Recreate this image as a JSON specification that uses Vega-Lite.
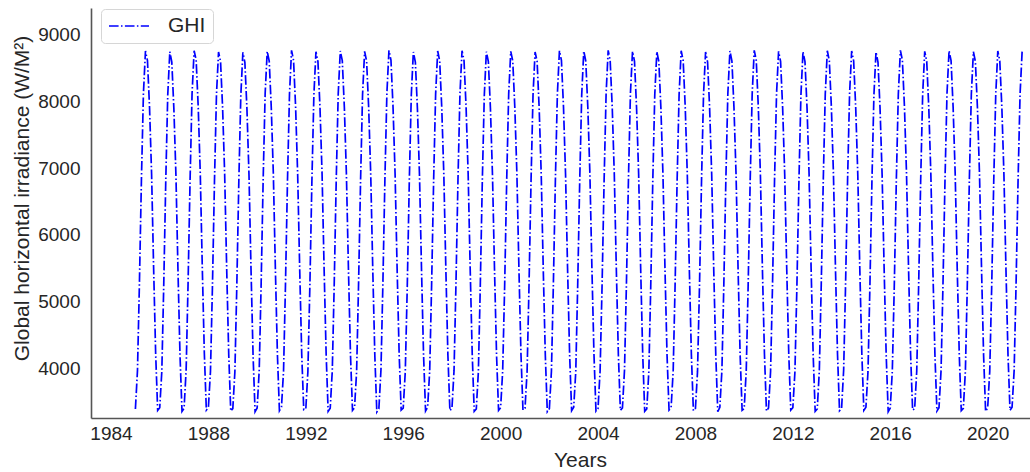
{
  "$schema": "https://vega.github.io/schema/vega-lite/v6.json",
  "width": 939,
  "height": 410,
  "autosize": {"type": "none"},
  "padding": {"left": 91, "top": 8, "right": 0, "bottom": 54},
  "background": "white",
  "config": {
    "view": {"stroke": null},
    "font": "Liberation Sans",
    "axis": {
      "grid": false,
      "ticks": false,
      "tickSize": 0,
      "domainColor": "#555555",
      "domainWidth": 1.6,
      "labelFont": "Liberation Sans",
      "labelFontSize": 19,
      "labelColor": "#262626",
      "titleFont": "Liberation Sans",
      "titleFontSize": 21,
      "titleFontWeight": "normal",
      "titleColor": "#262626"
    },
    "legend": {
      "labelFont": "Liberation Sans",
      "labelFontSize": 21,
      "labelColor": "#262626"
    }
  },
  "data": {
    "values": [
      {"d":"1985-01","v":3385},{"d":"1985-02","v":3960},{"d":"1985-03","v":5210},{"d":"1985-04","v":6810},{"d":"1985-05","v":8110},{"d":"1985-06","v":8755},{"d":"1985-07","v":8610},{"d":"1985-08","v":7910},{"d":"1985-09","v":6905},{"d":"1985-10","v":5510},{"d":"1985-11","v":4210},{"d":"1985-12","v":3365},
      {"d":"1986-01","v":3405},{"d":"1986-02","v":3945},{"d":"1986-03","v":5190},{"d":"1986-04","v":6790},{"d":"1986-05","v":8090},{"d":"1986-06","v":8745},{"d":"1986-07","v":8590},{"d":"1986-08","v":7890},{"d":"1986-09","v":6890},{"d":"1986-10","v":5490},{"d":"1986-11","v":4190},{"d":"1986-12","v":3350},
      {"d":"1987-01","v":3395},{"d":"1987-02","v":3970},{"d":"1987-03","v":5220},{"d":"1987-04","v":6820},{"d":"1987-05","v":8120},{"d":"1987-06","v":8760},{"d":"1987-07","v":8620},{"d":"1987-08","v":7920},{"d":"1987-09","v":6915},{"d":"1987-10","v":5520},{"d":"1987-11","v":4220},{"d":"1987-12","v":3370},
      {"d":"1988-01","v":3410},{"d":"1988-02","v":3950},{"d":"1988-03","v":5200},{"d":"1988-04","v":6800},{"d":"1988-05","v":8100},{"d":"1988-06","v":8740},{"d":"1988-07","v":8600},{"d":"1988-08","v":7900},{"d":"1988-09","v":6900},{"d":"1988-10","v":5500},{"d":"1988-11","v":4200},{"d":"1988-12","v":3355},
      {"d":"1989-01","v":3390},{"d":"1989-02","v":3940},{"d":"1989-03","v":5185},{"d":"1989-04","v":6785},{"d":"1989-05","v":8085},{"d":"1989-06","v":8735},{"d":"1989-07","v":8585},{"d":"1989-08","v":7885},{"d":"1989-09","v":6885},{"d":"1989-10","v":5485},{"d":"1989-11","v":4185},{"d":"1989-12","v":3345},
      {"d":"1990-01","v":3400},{"d":"1990-02","v":3965},{"d":"1990-03","v":5215},{"d":"1990-04","v":6815},{"d":"1990-05","v":8115},{"d":"1990-06","v":8750},{"d":"1990-07","v":8605},{"d":"1990-08","v":7905},{"d":"1990-09","v":6910},{"d":"1990-10","v":5505},{"d":"1990-11","v":4205},{"d":"1990-12","v":3360},
      {"d":"1991-01","v":3415},{"d":"1991-02","v":3955},{"d":"1991-03","v":5205},{"d":"1991-04","v":6805},{"d":"1991-05","v":8105},{"d":"1991-06","v":8765},{"d":"1991-07","v":8615},{"d":"1991-08","v":7915},{"d":"1991-09","v":6895},{"d":"1991-10","v":5495},{"d":"1991-11","v":4195},{"d":"1991-12","v":3375},
      {"d":"1992-01","v":3385},{"d":"1992-02","v":3945},{"d":"1992-03","v":5195},{"d":"1992-04","v":6795},{"d":"1992-05","v":8095},{"d":"1992-06","v":8745},{"d":"1992-07","v":8595},{"d":"1992-08","v":7895},{"d":"1992-09","v":6905},{"d":"1992-10","v":5505},{"d":"1992-11","v":4205},{"d":"1992-12","v":3350},
      {"d":"1993-01","v":3395},{"d":"1993-02","v":3960},{"d":"1993-03","v":5210},{"d":"1993-04","v":6810},{"d":"1993-05","v":8110},{"d":"1993-06","v":8755},{"d":"1993-07","v":8610},{"d":"1993-08","v":7910},{"d":"1993-09","v":6900},{"d":"1993-10","v":5500},{"d":"1993-11","v":4200},{"d":"1993-12","v":3365},
      {"d":"1994-01","v":3405},{"d":"1994-02","v":3950},{"d":"1994-03","v":5200},{"d":"1994-04","v":6800},{"d":"1994-05","v":8100},{"d":"1994-06","v":8750},{"d":"1994-07","v":8600},{"d":"1994-08","v":7900},{"d":"1994-09","v":6890},{"d":"1994-10","v":5490},{"d":"1994-11","v":4190},{"d":"1994-12","v":3340},
      {"d":"1995-01","v":3390},{"d":"1995-02","v":3970},{"d":"1995-03","v":5220},{"d":"1995-04","v":6820},{"d":"1995-05","v":8120},{"d":"1995-06","v":8765},{"d":"1995-07","v":8620},{"d":"1995-08","v":7920},{"d":"1995-09","v":6910},{"d":"1995-10","v":5510},{"d":"1995-11","v":4210},{"d":"1995-12","v":3370},
      {"d":"1996-01","v":3400},{"d":"1996-02","v":3945},{"d":"1996-03","v":5190},{"d":"1996-04","v":6790},{"d":"1996-05","v":8090},{"d":"1996-06","v":8740},{"d":"1996-07","v":8590},{"d":"1996-08","v":7890},{"d":"1996-09","v":6895},{"d":"1996-10","v":5495},{"d":"1996-11","v":4195},{"d":"1996-12","v":3355},
      {"d":"1997-01","v":3410},{"d":"1997-02","v":3955},{"d":"1997-03","v":5205},{"d":"1997-04","v":6805},{"d":"1997-05","v":8105},{"d":"1997-06","v":8755},{"d":"1997-07","v":8605},{"d":"1997-08","v":7905},{"d":"1997-09","v":6900},{"d":"1997-10","v":5500},{"d":"1997-11","v":4200},{"d":"1997-12","v":3360},
      {"d":"1998-01","v":3395},{"d":"1998-02","v":3960},{"d":"1998-03","v":5210},{"d":"1998-04","v":6810},{"d":"1998-05","v":8110},{"d":"1998-06","v":8760},{"d":"1998-07","v":8610},{"d":"1998-08","v":7910},{"d":"1998-09","v":6905},{"d":"1998-10","v":5505},{"d":"1998-11","v":4205},{"d":"1998-12","v":3350},
      {"d":"1999-01","v":3385},{"d":"1999-02","v":3940},{"d":"1999-03","v":5190},{"d":"1999-04","v":6790},{"d":"1999-05","v":8090},{"d":"1999-06","v":8745},{"d":"1999-07","v":8595},{"d":"1999-08","v":7895},{"d":"1999-09","v":6890},{"d":"1999-10","v":5490},{"d":"1999-11","v":4190},{"d":"1999-12","v":3365},
      {"d":"2000-01","v":3405},{"d":"2000-02","v":3965},{"d":"2000-03","v":5215},{"d":"2000-04","v":6815},{"d":"2000-05","v":8115},{"d":"2000-06","v":8750},{"d":"2000-07","v":8605},{"d":"2000-08","v":7905},{"d":"2000-09","v":6910},{"d":"2000-10","v":5510},{"d":"2000-11","v":4210},{"d":"2000-12","v":3370},
      {"d":"2001-01","v":3400},{"d":"2001-02","v":3950},{"d":"2001-03","v":5200},{"d":"2001-04","v":6800},{"d":"2001-05","v":8100},{"d":"2001-06","v":8740},{"d":"2001-07","v":8600},{"d":"2001-08","v":7900},{"d":"2001-09","v":6900},{"d":"2001-10","v":5500},{"d":"2001-11","v":4200},{"d":"2001-12","v":3345},
      {"d":"2002-01","v":3390},{"d":"2002-02","v":3955},{"d":"2002-03","v":5205},{"d":"2002-04","v":6805},{"d":"2002-05","v":8105},{"d":"2002-06","v":8760},{"d":"2002-07","v":8615},{"d":"2002-08","v":7915},{"d":"2002-09","v":6895},{"d":"2002-10","v":5495},{"d":"2002-11","v":4195},{"d":"2002-12","v":3360},
      {"d":"2003-01","v":3410},{"d":"2003-02","v":3945},{"d":"2003-03","v":5195},{"d":"2003-04","v":6795},{"d":"2003-05","v":8095},{"d":"2003-06","v":8755},{"d":"2003-07","v":8605},{"d":"2003-08","v":7905},{"d":"2003-09","v":6905},{"d":"2003-10","v":5505},{"d":"2003-11","v":4205},{"d":"2003-12","v":3355},
      {"d":"2004-01","v":3395},{"d":"2004-02","v":3960},{"d":"2004-03","v":5210},{"d":"2004-04","v":6810},{"d":"2004-05","v":8110},{"d":"2004-06","v":8765},{"d":"2004-07","v":8610},{"d":"2004-08","v":7910},{"d":"2004-09","v":6900},{"d":"2004-10","v":5500},{"d":"2004-11","v":4200},{"d":"2004-12","v":3365},
      {"d":"2005-01","v":3400},{"d":"2005-02","v":3970},{"d":"2005-03","v":5220},{"d":"2005-04","v":6820},{"d":"2005-05","v":8120},{"d":"2005-06","v":8750},{"d":"2005-07","v":8600},{"d":"2005-08","v":7900},{"d":"2005-09","v":6910},{"d":"2005-10","v":5510},{"d":"2005-11","v":4210},{"d":"2005-12","v":3350},
      {"d":"2006-01","v":3385},{"d":"2006-02","v":3950},{"d":"2006-03","v":5200},{"d":"2006-04","v":6800},{"d":"2006-05","v":8100},{"d":"2006-06","v":8745},{"d":"2006-07","v":8595},{"d":"2006-08","v":7895},{"d":"2006-09","v":6890},{"d":"2006-10","v":5490},{"d":"2006-11","v":4190},{"d":"2006-12","v":3370},
      {"d":"2007-01","v":3405},{"d":"2007-02","v":3955},{"d":"2007-03","v":5205},{"d":"2007-04","v":6805},{"d":"2007-05","v":8105},{"d":"2007-06","v":8760},{"d":"2007-07","v":8610},{"d":"2007-08","v":7910},{"d":"2007-09","v":6900},{"d":"2007-10","v":5500},{"d":"2007-11","v":4200},{"d":"2007-12","v":3360},
      {"d":"2008-01","v":3395},{"d":"2008-02","v":3945},{"d":"2008-03","v":5195},{"d":"2008-04","v":6795},{"d":"2008-05","v":8095},{"d":"2008-06","v":8740},{"d":"2008-07","v":8590},{"d":"2008-08","v":7890},{"d":"2008-09","v":6895},{"d":"2008-10","v":5495},{"d":"2008-11","v":4195},{"d":"2008-12","v":3345},
      {"d":"2009-01","v":3410},{"d":"2009-02","v":3965},{"d":"2009-03","v":5215},{"d":"2009-04","v":6815},{"d":"2009-05","v":8115},{"d":"2009-06","v":8755},{"d":"2009-07","v":8605},{"d":"2009-08","v":7905},{"d":"2009-09","v":6905},{"d":"2009-10","v":5505},{"d":"2009-11","v":4205},{"d":"2009-12","v":3365},
      {"d":"2010-01","v":3390},{"d":"2010-02","v":3960},{"d":"2010-03","v":5210},{"d":"2010-04","v":6810},{"d":"2010-05","v":8110},{"d":"2010-06","v":8765},{"d":"2010-07","v":8615},{"d":"2010-08","v":7915},{"d":"2010-09","v":6910},{"d":"2010-10","v":5510},{"d":"2010-11","v":4210},{"d":"2010-12","v":3355},
      {"d":"2011-01","v":3400},{"d":"2011-02","v":3950},{"d":"2011-03","v":5200},{"d":"2011-04","v":6800},{"d":"2011-05","v":8100},{"d":"2011-06","v":8750},{"d":"2011-07","v":8600},{"d":"2011-08","v":7900},{"d":"2011-09","v":6900},{"d":"2011-10","v":5500},{"d":"2011-11","v":4200},{"d":"2011-12","v":3370},
      {"d":"2012-01","v":3405},{"d":"2012-02","v":3940},{"d":"2012-03","v":5190},{"d":"2012-04","v":6790},{"d":"2012-05","v":8090},{"d":"2012-06","v":8745},{"d":"2012-07","v":8595},{"d":"2012-08","v":7895},{"d":"2012-09","v":6890},{"d":"2012-10","v":5490},{"d":"2012-11","v":4190},{"d":"2012-12","v":3350},
      {"d":"2013-01","v":3385},{"d":"2013-02","v":3955},{"d":"2013-03","v":5205},{"d":"2013-04","v":6805},{"d":"2013-05","v":8105},{"d":"2013-06","v":8760},{"d":"2013-07","v":8610},{"d":"2013-08","v":7910},{"d":"2013-09","v":6905},{"d":"2013-10","v":5505},{"d":"2013-11","v":4205},{"d":"2013-12","v":3360},
      {"d":"2014-01","v":3395},{"d":"2014-02","v":3970},{"d":"2014-03","v":5220},{"d":"2014-04","v":6820},{"d":"2014-05","v":8120},{"d":"2014-06","v":8755},{"d":"2014-07","v":8605},{"d":"2014-08","v":7905},{"d":"2014-09","v":6900},{"d":"2014-10","v":5500},{"d":"2014-11","v":4200},{"d":"2014-12","v":3365},
      {"d":"2015-01","v":3410},{"d":"2015-02","v":3945},{"d":"2015-03","v":5195},{"d":"2015-04","v":6795},{"d":"2015-05","v":8095},{"d":"2015-06","v":8740},{"d":"2015-07","v":8590},{"d":"2015-08","v":7890},{"d":"2015-09","v":6895},{"d":"2015-10","v":5495},{"d":"2015-11","v":4195},{"d":"2015-12","v":3345},
      {"d":"2016-01","v":3400},{"d":"2016-02","v":3960},{"d":"2016-03","v":5210},{"d":"2016-04","v":6810},{"d":"2016-05","v":8110},{"d":"2016-06","v":8765},{"d":"2016-07","v":8615},{"d":"2016-08","v":7915},{"d":"2016-09","v":6910},{"d":"2016-10","v":5510},{"d":"2016-11","v":4210},{"d":"2016-12","v":3370},
      {"d":"2017-01","v":3390},{"d":"2017-02","v":3950},{"d":"2017-03","v":5200},{"d":"2017-04","v":6800},{"d":"2017-05","v":8100},{"d":"2017-06","v":8750},{"d":"2017-07","v":8600},{"d":"2017-08","v":7900},{"d":"2017-09","v":6900},{"d":"2017-10","v":5500},{"d":"2017-11","v":4200},{"d":"2017-12","v":3355},
      {"d":"2018-01","v":3405},{"d":"2018-02","v":3965},{"d":"2018-03","v":5215},{"d":"2018-04","v":6815},{"d":"2018-05","v":8115},{"d":"2018-06","v":8760},{"d":"2018-07","v":8610},{"d":"2018-08","v":7910},{"d":"2018-09","v":6905},{"d":"2018-10","v":5505},{"d":"2018-11","v":4205},{"d":"2018-12","v":3360},
      {"d":"2019-01","v":3395},{"d":"2019-02","v":3955},{"d":"2019-03","v":5205},{"d":"2019-04","v":6805},{"d":"2019-05","v":8105},{"d":"2019-06","v":8745},{"d":"2019-07","v":8595},{"d":"2019-08","v":7895},{"d":"2019-09","v":6890},{"d":"2019-10","v":5490},{"d":"2019-11","v":4190},{"d":"2019-12","v":3350},
      {"d":"2020-01","v":3400},{"d":"2020-02","v":3945},{"d":"2020-03","v":5195},{"d":"2020-04","v":6795},{"d":"2020-05","v":8095},{"d":"2020-06","v":8755},{"d":"2020-07","v":8605},{"d":"2020-08","v":7905},{"d":"2020-09","v":6900},{"d":"2020-10","v":5500},{"d":"2020-11","v":4200},{"d":"2020-12","v":3365},
      {"d":"2021-01","v":3410},{"d":"2021-02","v":3960},{"d":"2021-03","v":5210},{"d":"2021-04","v":6810},{"d":"2021-05","v":8110},{"d":"2021-06","v":8750}
    ]
  },
  "mark": {"type": "line", "strokeWidth": 1.7, "strokeDash": [9.6, 2.4, 1.5, 2.4], "clip": true},
  "encoding": {
    "x": {
      "field": "d",
      "type": "temporal",
      "scale": {"domain": [{"year": 1983, "month": 3, "date": 7}, {"year": 2021, "month": 9, "date": 27}]},
      "axis": {
        "title": "Years",
        "format": "%Y",
        "values": [{"year": 1984}, {"year": 1988}, {"year": 1992}, {"year": 1996}, {"year": 2000}, {"year": 2004}, {"year": 2008}, {"year": 2012}, {"year": 2016}, {"year": 2020}],
        "labelPadding": 6,
        "labelFlush": false,
        "labelOverlap": false,
        "titleX": 489,
        "titleY": 48,
        "titleBaseline": "alphabetic",
        "titleAnchor": null
      }
    },
    "y": {
      "field": "v",
      "type": "quantitative",
      "scale": {"domain": [3250, 9400], "nice": false, "zero": false},
      "axis": {
        "title": "Global horizontal irradiance (W/M²)",
        "values": [4000, 5000, 6000, 7000, 8000, 9000],
        "format": "d",
        "labelPadding": 11,
        "titleX": -63,
        "titleY": 190,
        "titleAngle": 270,
        "titleAlign": "center",
        "titleBaseline": "alphabetic"
      }
    },
    "color": {
      "datum": "GHI",
      "type": "nominal",
      "scale": {"range": ["#0000ff"]},
      "legend": {
        "title": null,
        "orient": "none",
        "legendX": 10,
        "legendY": 1,
        "symbolType": "stroke",
        "symbolSize": 1600,
        "symbolStrokeWidth": 1.7,
        "symbolDash": [9.6, 2.4, 1.5, 2.4],
        "clipHeight": 20,
        "labelOffset": 18,
        "padding": 7,
        "strokeColor": "#d6d6d6",
        "fillColor": "white",
        "cornerRadius": 4
      }
    }
  }
}
